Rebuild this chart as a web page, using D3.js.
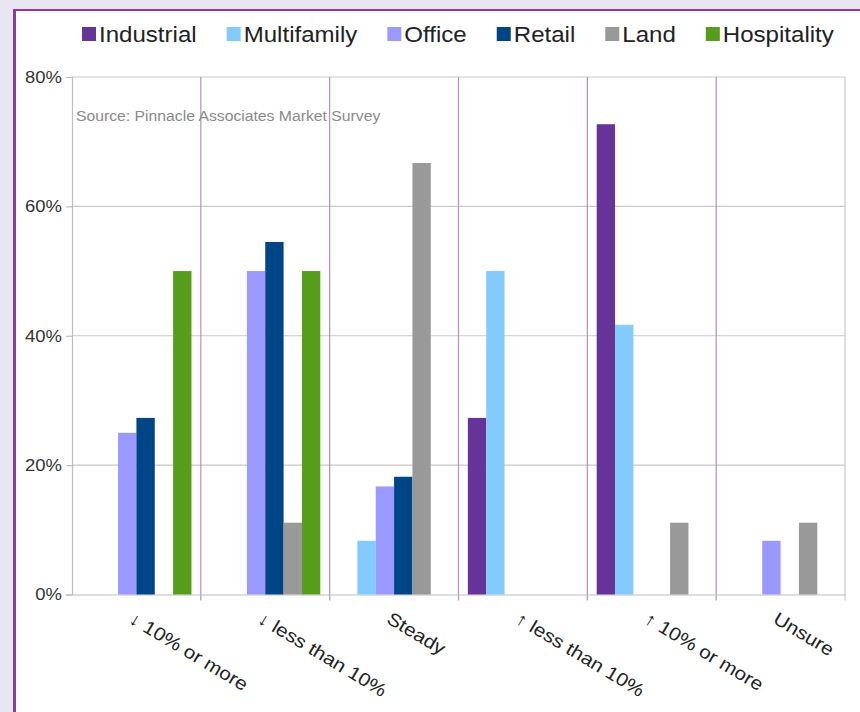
<!DOCTYPE html>
<html><head><meta charset="utf-8">
<script src="https://cdn.jsdelivr.net/npm/d3@7"></script>
<style>
html,body{margin:0;padding:0;background:#e8e6f2;}
svg{display:block;font-family:"Liberation Sans",Arial,sans-serif;}
</style></head>
<body>
<svg id="chart" width="860" height="712"></svg>
<script>
const categories = ["↓ 10% or more", "↓ less than 10%", "Steady", "↑ less than 10%", "↑ 10% or more", "Unsure"];
const seriesNames = ["Industrial", "Multifamily", "Office", "Retail", "Land", "Hospitality"];
const seriesColors = ["#663399", "#83caff", "#9999ff", "#004586", "#999999", "#579d1c"];
// values in %, one array per series, aligned with categories
const industrial  = [0, 0, 0, 27.3, 72.7, 0];
const multifamily = [0, 0, 8.3, 50, 41.7, 0];
const office      = [25, 50, 16.7, 0, 0, 8.3];
const retail      = [27.3, 54.5, 18.2, 0, 0, 0];
const land        = [0, 11.1, 66.7, 0, 11.1, 11.1];
const hospitality = [50, 50, 0, 0, 0, 0];
const seriesValues = [industrial, multifamily, office, retail, land, hospitality];
const yTicks = [0, 20, 40, 60, 80];
const sourceNote = "Source: Pinnacle Associates Market Survey";

const SX = 1.12; // horizontal text stretch seen in the reference
const svg = d3.select("#chart");
// panel
svg.append("rect").attr("x", 0).attr("y", 0).attr("width", 860).attr("height", 712).attr("fill", "#e8e6f2");
svg.append("rect").attr("x", 14).attr("y", 10).attr("width", 860).attr("height", 712).attr("fill", "#ffffff");
svg.append("line").attr("x1", 14.5).attr("x2", 14.5).attr("y1", 9).attr("y2", 712).attr("stroke", "#8e3a9c").attr("stroke-width", 3);
svg.append("line").attr("x1", 13).attr("x2", 860).attr("y1", 10).attr("y2", 10).attr("stroke", "#8e3a9c").attr("stroke-width", 2);

const L = 72, R = 845, T = 77, B = 594.5;
const x0 = d3.scaleBand().domain(categories).range([L, R]).padding(0);
const x1 = d3.scaleBand().domain(seriesNames).range([0, x0.bandwidth()]).paddingInner(0).paddingOuter(0.51);
const y = d3.scaleLinear().domain([0, 80]).range([B, T]);

// gridlines
svg.append("g").selectAll("line").data(yTicks.filter(d => d > 0)).join("line")
  .attr("x1", L).attr("x2", R).attr("y1", d => y(d)).attr("y2", d => y(d))
  .attr("stroke", "#c9c9c9").attr("stroke-width", 1.2);

// left axis
const yAxis = d3.axisLeft(y).tickValues(yTicks).tickFormat(d => d + "%").tickSize(6).tickPadding(4);
const gy = svg.append("g").attr("transform", `translate(${L},0)`).call(yAxis);
gy.select(".domain").attr("stroke", "#bdbdbd").attr("stroke-width", 1.2);
gy.selectAll(".tick line").attr("stroke", "#bdbdbd").attr("stroke-width", 1.2);
gy.selectAll(".tick text").attr("fill", "#333").attr("font-size", 16.5)
  .attr("font-family", "Liberation Sans, Arial, sans-serif")
  .attr("x", null)
  .attr("transform", `translate(-10,0) scale(${SX},1)`);

// category separators (purple)
svg.append("g").selectAll("line").data(categories.slice(1)).join("line")
  .attr("x1", d => x0(d)).attr("x2", d => x0(d)).attr("y1", T).attr("y2", B + 6)
  .attr("stroke", "#b58fbd").attr("stroke-width", 1.2);
// right border
svg.append("line").attr("x1", R).attr("x2", R).attr("y1", T).attr("y2", B + 6).attr("stroke", "#c9c9c9").attr("stroke-width", 1.2);

// bottom axis
const xAxis = d3.axisBottom(x0).tickSize(0).tickFormat("");
const gx = svg.append("g").attr("transform", `translate(0,${B})`).call(xAxis);
gx.select(".domain").attr("stroke", "#bdbdbd").attr("stroke-width", 1.2);

// source note
svg.append("text").attr("transform", "translate(76,121) scale(1.05,1)").text(sourceNote)
  .attr("font-size", 15).attr("fill", "#8a8a8a");

// bars
const groups = svg.append("g").selectAll("g").data(categories).join("g")
  .attr("transform", d => `translate(${x0(d)},0)`);
groups.selectAll("rect").data((c, ci) => seriesNames.map((s, si) => ({s, si, v: seriesValues[si][ci]})).filter(d => d.v > 0))
  .join("rect")
  .attr("x", d => x1(d.s)).attr("width", x1.bandwidth())
  .attr("y", d => y(d.v)).attr("height", d => y(0) - y(d.v))
  .attr("fill", d => seriesColors[d.si]);

// category labels
svg.append("g").selectAll("text").data(categories).join("text")
  .attr("transform", d => `translate(${x0(d) + x0.bandwidth() / 2 - 1},${B + 15}) rotate(31) scale(${SX},1)`)
  .attr("dy", "0.8em").attr("text-anchor", "start")
  .attr("font-size", 18.5).attr("fill", "#222").text(d => d);

// legend
const leg = svg.append("g");
let lx = 82;
seriesNames.forEach((s, i) => {
  leg.append("rect").attr("x", lx).attr("y", 27).attr("width", 14).attr("height", 14).attr("fill", seriesColors[i]);
  const t = leg.append("text").attr("transform", `translate(${lx + 17},42) scale(${SX},1)`)
    .attr("font-size", 21.5).attr("fill", "#222").text(s);
  lx += 17 + t.node().getComputedTextLength() * SX + 30;
});
</script>
</body></html>
